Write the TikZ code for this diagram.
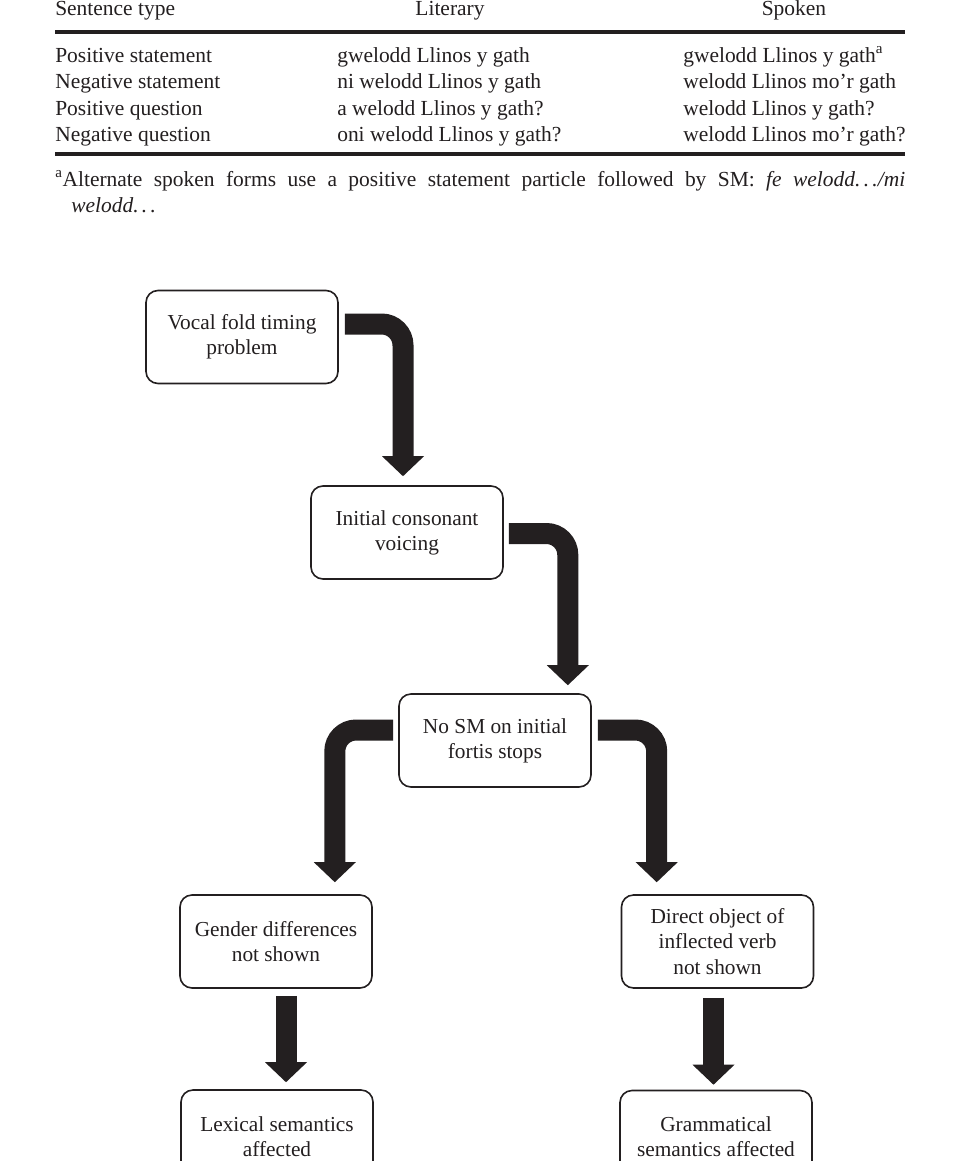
\documentclass[tikz,border=0pt]{standalone}
\usepackage{fontspec}
\setmainfont{Liberation Serif}
\usetikzlibrary{arrows.meta,calc}
\definecolor{ink}{RGB}{35,31,32}
\newcommand{\spdots}{.\kern2.5pt.\kern2.5pt.}
\begin{document}
\begin{tikzpicture}[x=0.75pt,y=-0.75pt,
    box/.style={draw=ink,line width=1.2pt,rounded corners=9pt,fill=white,text=ink,
        minimum width=144pt,minimum height=69.75pt,inner sep=0pt,align=center,
        font=\fontsize{16}{18.9}\selectfont},
    bigarrow/.style={draw=ink,line width=15.75pt,
        -{Triangle[width=31.5pt,length=15pt,line width=0pt]}},
    bent/.style={bigarrow,rounded corners=16pt},
    cell/.style={anchor=base west,inner sep=0pt,text=ink,
        font=\fontsize{16.1}{19.9}\selectfont}]
    \useasboundingbox (0,0) rectangle (960,1161);
    \clip (0,0) rectangle (960,1161);
    \fill [white] (0,0) rectangle (960,1161);
    % table
    \node [cell] (htype) at (55,15) {Sentence type};
    \node [cell,anchor=base] (hlit) at (450,15) {Literary};
    \node [cell,anchor=base] (hspok) at (794,15) {Spoken};
    \draw [ink,line width=2.4pt] (55,32) -- (905,32);
    \foreach \y/\a/\b/\c [count=\i] in {62/Positive statement/gwelodd Llinos y gath/gwelodd Llinos y gath\textsuperscript{a},
        88.5/Negative statement/ni welodd Llinos y gath/welodd Llinos mo’r gath,
        115/Positive question/a welodd Llinos y gath?/welodd Llinos y gath?,
        141.5/Negative question/oni welodd Llinos y gath?/welodd Llinos mo’r gath?}
    {
    \node [cell] (type\i) at (55,\y) {\a};
    \node [cell] (lit\i) at (337,\y) {\b};
    \node [cell] (spok\i) at (683,\y) {\c};
    }
    \draw [ink,line width=2.4pt] (55,154) -- (905,154);
    \node [cell] (note) at (55,186) {\parbox[t]{637.5pt}{\noindent\hangindent=12pt\hangafter=1
        \textsuperscript{a}Alternate spoken forms use a positive statement particle followed by SM: \textit{fe welodd\spdots/mi}\linebreak\textit{welodd\spdots}}};
    % flow chart
    \node [box] (vocal) at (242,337) {Vocal fold timing\\problem};
    \node [box] (voicing) at (407,532.5) {Initial consonant\\voicing};
    \node [box] (nosm) at (495,740.5) {No SM on initial\\fortis stops};
    \node [box] (gender) at (276,941.5) {Gender differences\\not shown};
    \node [box] (object) at (717.5,941.5) {Direct object of\\inflected verb\\not shown};
    \node [box] (lexical) at (277,1136.5) {Lexical semantics\\affected};
    \node [box] (grammar) at (716,1137) {Grammatical\\semantics affected};
    \draw [bent] ($(vocal.east)+(6,-13)$) -| ($(voicing.north)+(-4,-9)$);
    \draw [bent] ($(voicing.east)+(5,1)$) -| ($(nosm.north east)+(-24,-8)$);
    \draw [bent] ($(nosm.west)+(-5,-10.5)$) -| ($(gender.north east)+(-38,-12)$);
    \draw [bent] ($(nosm.east)+(6,-10.5)$) -| ($(object.north west)+(36,-12)$);
    \draw [bigarrow] ($(gender.south)+(10,7)$) -- ($(lexical.north)+(9,-7)$);
    \draw [bigarrow] ($(object.south)+(-4,9)$) -- ($(grammar.north)+(-2.5,-5)$);
\end{tikzpicture}
\end{document}
